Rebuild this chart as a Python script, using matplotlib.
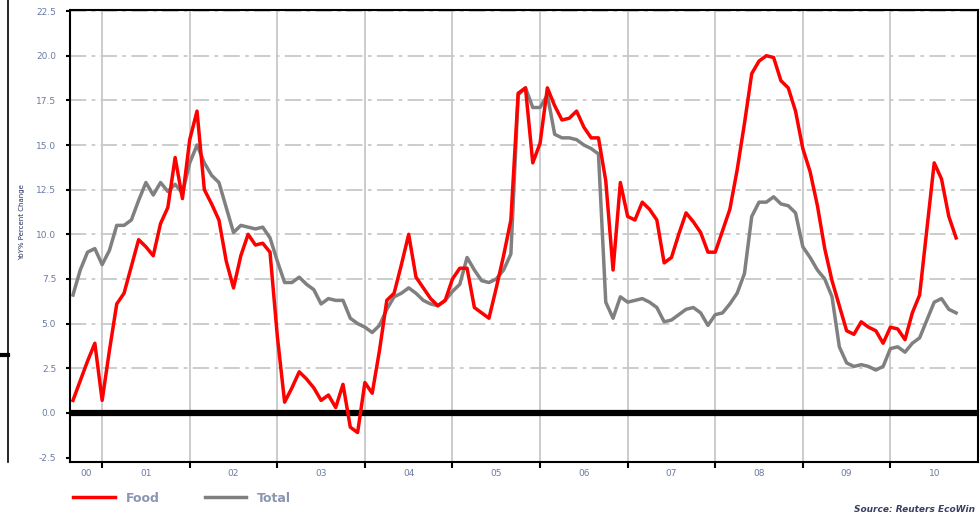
import matplotlib
matplotlib.use('Agg')
import matplotlib.pyplot as plt
import numpy as np
from matplotlib.lines import Line2D

# ---------------- data (monthly YoY % change, Sep 2000 - Oct 2010) ----------------
start_year = 2000
start_month = 9

food = [0.7, 1.8, 2.9, 3.9, 0.7, 3.5, 6.1, 6.7, 8.2, 9.7,
        9.3, 8.8, 10.6, 11.5, 14.3, 12.0, 15.3, 16.9, 12.5, 11.7,
        10.8, 8.5, 7.0, 8.8, 10.0, 9.4, 9.5, 9.0, 4.3, 0.6,
        1.4, 2.3, 1.9, 1.4, 0.7, 1.0, 0.3, 1.6, -0.8, -1.1,
        1.7, 1.1, 3.5, 6.3, 6.7, 8.3, 10.0, 7.6, 7.0, 6.4,
        6.0, 6.3, 7.5, 8.1, 8.1, 5.9, 5.6, 5.3, 7.0, 8.8,
        10.8, 17.9, 18.2, 14.0, 15.1, 18.2, 17.2, 16.4, 16.5, 16.9,
        16.0, 15.4, 15.4, 13.0, 8.0, 12.9, 11.0, 10.8, 11.8, 11.4,
        10.8, 8.4, 8.7, 10.0, 11.2, 10.7, 10.1, 9.0, 9.0, 10.2,
        11.4, 13.6, 16.2, 19.0, 19.7, 20.0, 19.9, 18.6, 18.2, 16.9,
        14.8, 13.5, 11.6, 9.2, 7.4, 6.0, 4.6, 4.4, 5.1, 4.8,
        4.6, 3.9, 4.8, 4.7, 4.1, 5.6, 6.6, 10.3, 14.0, 13.1,
        11.0, 9.8]

total = [6.6, 8.0, 9.0, 9.2, 8.3, 9.1, 10.5, 10.5, 10.8, 11.9,
         12.9, 12.2, 12.9, 12.4, 12.8, 12.3, 14.0, 15.0, 14.0, 13.3,
         12.9, 11.5, 10.1, 10.5, 10.4, 10.3, 10.4, 9.8, 8.5, 7.3,
         7.3, 7.6, 7.2, 6.9, 6.1, 6.4, 6.3, 6.3, 5.3, 5.0,
         4.8, 4.5, 4.9, 5.8, 6.5, 6.7, 7.0, 6.7, 6.3, 6.1,
         6.0, 6.3, 6.8, 7.2, 8.7, 8.0, 7.4, 7.3, 7.5, 8.0,
         8.9, 17.8, 18.2, 17.1, 17.1, 17.8, 15.6, 15.4, 15.4, 15.3,
         15.0, 14.8, 14.5, 6.2, 5.3, 6.5, 6.2, 6.3, 6.4, 6.2,
         5.9, 5.1, 5.2, 5.5, 5.8, 5.9, 5.6, 4.9, 5.5, 5.6,
         6.1, 6.7, 7.8, 11.0, 11.8, 11.8, 12.1, 11.7, 11.6, 11.2,
         9.3, 8.7, 8.0, 7.5, 6.5, 3.7, 2.8, 2.6, 2.7, 2.6,
         2.4, 2.6, 3.6, 3.7, 3.4, 3.9, 4.2, 5.2, 6.2, 6.4,
         5.8, 5.6]

year_labels = ['00', '01', '02', '03', '04', '05', '06', '07', '08', '09', '10']
y_ticks = [-2.5, 0.0, 2.5, 5.0, 7.5, 10.0, 12.5, 15.0, 17.5, 20.0, 22.5]
series_names = ['Food', 'Total']

# ---------------- figure ----------------
W, H = 980, 519
fig = plt.figure(figsize=(W / 100, H / 100), dpi=100)
ax = fig.add_axes([70 / W, 57 / H, 908 / W, 452 / H])

x = start_year + (start_month - 1 + np.arange(len(food))) / 12.0
xmin, xmax = 2000.633, 2011.0
ax.set_xlim(xmin, xmax)
ax.set_ylim(-2.75, 22.56)

grid_col = '#c8c8c8'
lab_col = '#6b7aa3'

# y axis
ax.set_yticks(y_ticks)
ax.set_yticklabels([f'{v:.1f}' for v in y_ticks])
ax.yaxis.grid(True, linestyle=(0, (9, 3, 2, 3)), color=grid_col, lw=1.3)
ax.tick_params(axis='y', length=3, width=1.5, color='black', labelsize=6.5,
               labelcolor=lab_col, pad=7, direction='out')

# x axis: ticks at year boundaries, labels centred in each (visible) year
years = list(range(2001, 2011))
ax.set_xticks(years)
ax.set_xticklabels([])
ax.xaxis.grid(True, which='major', linestyle='-', color=grid_col, lw=1.3)
first_year = 2000
mids = [(max(first_year + i, xmin) + min(first_year + i + 1, xmax)) / 2 for i in range(len(year_labels))]
ax.set_xticks(mids, minor=True)
ax.set_xticklabels(year_labels, minor=True)
ax.tick_params(axis='x', which='major', length=4, width=1.5, color='black', direction='out')
ax.tick_params(axis='x', which='minor', length=0, labelsize=6.5, labelcolor=lab_col, pad=5)
ax.set_axisbelow(True)

# no dash-dot gridline below zero
for tick_val, gl in zip(y_ticks, ax.get_ygridlines()):
    if tick_val < 0:
        gl.set_visible(False)

for s in ax.spines.values():
    s.set_linewidth(1.5)
    s.set_color('black')

ax.axhline(0, color='black', lw=4.5, zorder=3)
l_total, = ax.plot(x, total, color='#808080', lw=2.5, zorder=4, solid_joinstyle='round')
l_food, = ax.plot(x, food, color='#ff0000', lw=2.5, zorder=5, solid_joinstyle='round')

# legend
fig.legend([l_food, l_total], series_names, loc='lower left',
           bbox_to_anchor=(62 / W, 3 / H), ncol=2, frameon=False,
           handlelength=3.3, columnspacing=3.6, handletextpad=0.9,
           prop={'size': 9, 'weight': 'bold'}, labelcolor='#8a96b0')

# y label
fig.text(22 / W, 1 - 222 / H, 'YoY% Percent Change', rotation=90, fontsize=5,
         color='#1f2d5a', ha='center', va='center')

# source
fig.text(975 / W, 10 / H, 'Source: Reuters EcoWin', ha='right', va='center',
         style='italic', weight='bold', fontsize=6.5, color='#3a3f5e')

# cropped neighbouring chart edge at far left
fig.add_artist(Line2D([8 / W, 8 / W], [57 / H, 1.0], color='black', lw=1.2,
                      transform=fig.transFigure))
fig.add_artist(Line2D([0, 8 / W], [1 - 355 / H, 1 - 355 / H], color='black', lw=3,
                      transform=fig.transFigure))

fig.savefig('out.png', dpi=100)
